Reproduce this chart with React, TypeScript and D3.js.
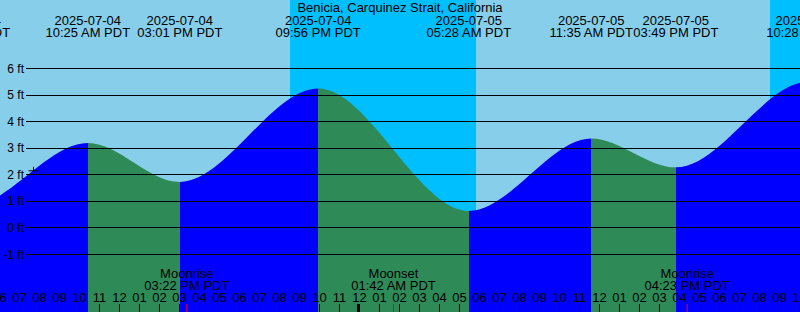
import React from "react";
import * as d3 from "d3";

const title = "Benicia, Carquinez Strait, California";
const tideTimes = [
  "2025-07-03 21:12",
  "2025-07-04 04:25",
  "2025-07-04 10:25",
  "2025-07-04 15:01",
  "2025-07-04 21:56",
  "2025-07-05 05:28",
  "2025-07-05 11:35",
  "2025-07-05 15:49",
  "2025-07-05 22:28",
  "2025-07-06 06:05",
];
const tideHeights = [5.0, 0.8, 3.2, 1.73, 5.25, 0.64, 3.37, 2.28, 5.5, 0.5];
const nightStarts = ["2025-07-04 20:31", "2025-07-05 20:31"];
const nightEnds = ["2025-07-05 05:49", "2025-07-06 05:49"];
const moonTimes = ["2025-07-04 15:22", "2025-07-05 01:42", "2025-07-05 16:23"];
const moonEvents = ["Moonrise", "Moonset", "Moonrise"];
const levelTicks = [-1, 0, 1, 2, 3, 4, 5, 6];
const nowTime = "2025-07-04 07:42";
const nowLevel = 2.15;
const viewStart = "2025-07-04 06:01:30";
const viewEnd = "2025-07-05 22:01:30";

const W = 800;
const H = 312;
const FONT = "'Liberation Sans', Arial, sans-serif";
const DAY = "#87CEEB";
const NIGHT = "#00BFFF";
const RISE = "#0000FF";
const FALL = "#2E8B57";

const parse = d3.timeParse("%Y-%m-%d %H:%M");
const parseS = d3.timeParse("%Y-%m-%d %H:%M:%S");
const fmtDate = d3.timeFormat("%Y-%m-%d");
const fmtTime = d3.timeFormat("%I:%M %p PDT");
const fmtHour = d3.timeFormat("%I");

export default function App() {
  const t0 = parseS(viewStart) as Date;
  const t1 = parseS(viewEnd) as Date;
  const x = d3.scaleTime().domain([t0, t1]).range([0, W]);
  const y = d3.scaleLinear().domain([-1, 6]).range([254.5, 68.5]);

  const tides = tideTimes.map((s, i) => ({ t: parse(s) as Date, h: tideHeights[i] }));
  const area = d3
    .area<{ t: Date; h: number }>()
    .x((d) => x(d.t))
    .y0(H)
    .y1((d) => y(d.h))
    .curve(d3.curveMonotoneX);

  const hours = d3.timeHour.range(d3.timeHour.offset(t0, -1), t1);
  const moons = moonTimes.map((s, i) => ({ t: parse(s) as Date, name: moonEvents[i] }));
  const nights = nightStarts.map((s, i) => ({ a: parse(s) as Date, b: parse(nightEnds[i]) as Date }));
  const nowT = parse(nowTime) as Date;
  const nx = x(nowT);
  const ny = y(nowLevel);
  const shown = tides.filter((d) => x(d.t) > -120 && x(d.t) < W + 120);

  return (
    <>
      <style>{`body{margin:0;}`}</style>
      <svg width={W} height={H} style={{ display: "block" }} fontFamily={FONT}>
        <defs>
          <clipPath id="tideClip">
            <path d={area(tides) || ""} />
          </clipPath>
        </defs>
        <rect x={0} y={0} width={W} height={H} fill={DAY} />
        {nights.map((n, i) => (
          <rect
            key={"n" + i}
            x={x(n.a)}
            y={0}
            width={x(n.b) - x(n.a)}
            height={H}
            fill={NIGHT}
            shapeRendering="crispEdges"
          />
        ))}
        <g clipPath="url(#tideClip)">
          {tides.slice(0, -1).map((d, i) => {
            const e = tides[i + 1];
            return (
              <rect
                key={"s" + i}
                x={x(d.t)}
                y={0}
                width={x(e.t) - x(d.t)}
                height={H}
                fill={e.h > d.h ? RISE : FALL}
                shapeRendering="crispEdges"
              />
            );
          })}
        </g>
        {levelTicks.map((v) => (
          <g key={"g" + v}>
            <line x1={26} x2={W} y1={y(v)} y2={y(v)} stroke="#000" strokeWidth={1} shapeRendering="crispEdges" />
            <text x={24} y={y(v)} textAnchor="end" dominantBaseline="central" fontSize={12} fill="#000">
              {v + " ft"}
            </text>
          </g>
        ))}
        <text x={W / 2} y={12} textAnchor="middle" fontSize={13} fill="#000">
          {title}
        </text>
        {shown.map((d, i) => (
          <g key={"l" + i}>
            <text x={x(d.t)} y={24.5} textAnchor="middle" fontSize={13} fill="#000">
              {fmtDate(d.t)}
            </text>
            <text x={x(d.t)} y={36.5} textAnchor="middle" fontSize={13} fill="#000">
              {fmtTime(d.t)}
            </text>
          </g>
        ))}
        <g stroke="#000" strokeWidth={1}>
          <line x1={nx - 5} x2={nx + 5} y1={ny} y2={ny} />
          <line x1={nx} x2={nx} y1={ny - 4} y2={ny + 4} />
        </g>
        {moons.map((m, i) => (
          <g key={"m" + i}>
            <text x={x(m.t)} y={278} textAnchor="middle" fontSize={13} fill="#000">
              {m.name}
            </text>
            <text x={x(m.t)} y={290} textAnchor="middle" fontSize={13} fill="#000">
              {fmtTime(m.t)}
            </text>
            <line x1={x(m.t)} x2={x(m.t)} y1={304} y2={H} stroke="#FF0000" strokeWidth={1} />
          </g>
        ))}
        {hours.map((h, i) => {
          const hx = x(h);
          const midnight = h.getHours() === 0;
          return (
            <g key={"h" + i}>
              <text x={hx} y={301.5} textAnchor="middle" fontSize={13} fill="#000">
                {fmtHour(h)}
              </text>
              <line
                x1={midnight ? hx - 1 : hx}
                x2={midnight ? hx - 1 : hx}
                y1={304}
                y2={H}
                stroke="#000"
                strokeWidth={midnight ? 3 : 1}
              />
            </g>
          );
        })}
      </svg>
    </>
  );
}
